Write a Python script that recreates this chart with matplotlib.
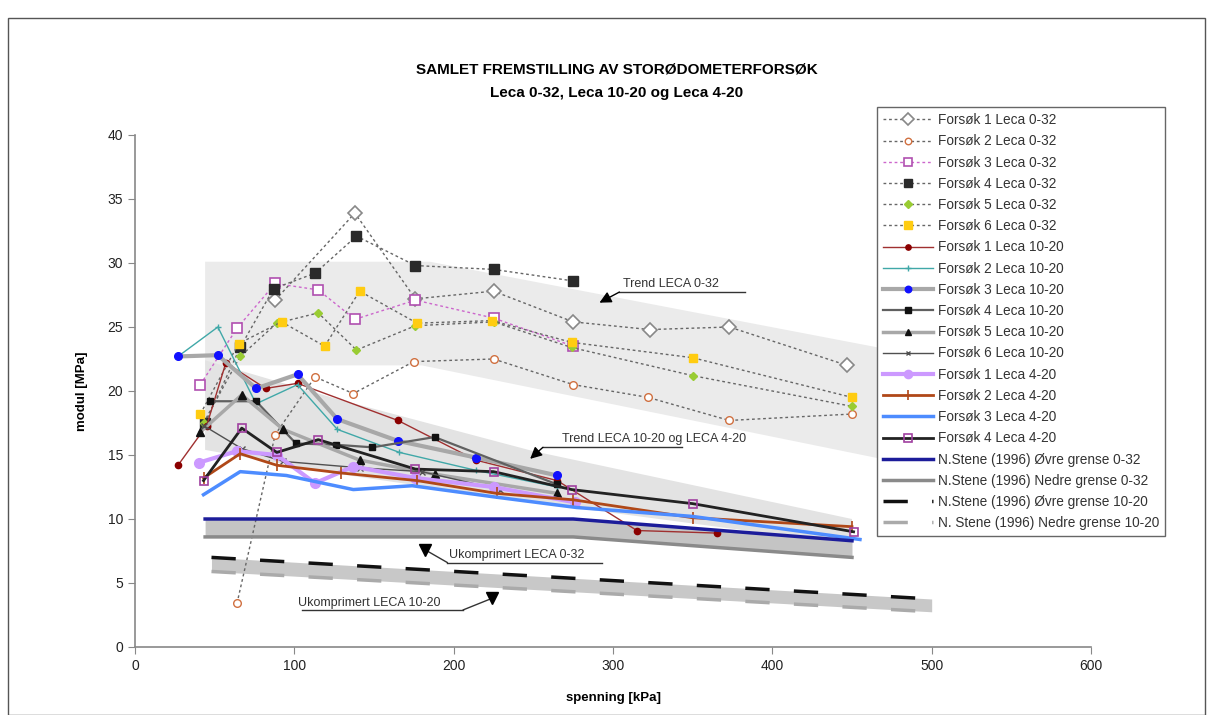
import matplotlib
matplotlib.use("Agg")
import matplotlib.pyplot as plt
from matplotlib.patches import Rectangle, Polygon

plt.rcParams['font.family'] = ['Liberation Sans', 'DejaVu Sans']

# ---------------- data ----------------
# Leca 0-32
x_f1_032 = [88, 138, 176, 225, 275, 323, 373, 447]
y_f1_032 = [27.1, 33.9, 27.2, 27.8, 25.4, 24.8, 25.0, 22.0]
x_f2_032 = [64, 88, 113, 137, 175, 225, 275, 322, 373, 450]
y_f2_032 = [3.4, 16.6, 21.1, 19.8, 22.3, 22.5, 20.5, 19.5, 17.7, 18.2]
x_f3_032 = [41, 64, 88, 115, 138, 176, 225, 275]
y_f3_032 = [20.5, 24.9, 28.4, 27.9, 25.6, 27.1, 25.7, 23.5]
x_f4_032 = [44, 66, 87, 113, 139, 176, 225, 275]
y_f4_032 = [17.5, 23.4, 28.0, 29.2, 32.1, 29.8, 29.5, 28.6]
x_f5_032 = [43, 66, 89, 115, 139, 176, 225, 274, 350, 450]
y_f5_032 = [17.5, 22.7, 25.3, 26.1, 23.2, 25.1, 25.4, 23.4, 21.2, 18.8]
x_f6_032 = [41, 65, 92, 119, 141, 177, 224, 274, 350, 450]
y_f6_032 = [18.2, 23.7, 25.4, 23.5, 27.8, 25.3, 25.5, 23.8, 22.6, 19.5]
# Leca 10-20
x_f1_1020 = [27, 45, 57, 82, 102, 165, 214, 265, 315, 365]
y_f1_1020 = [14.2, 17.3, 22.2, 20.2, 20.6, 17.7, 14.6, 13.0, 9.1, 8.9]
x_f2_1020 = [27, 52, 76, 102, 127, 166, 214, 265]
y_f2_1020 = [22.7, 25.0, 19.0, 20.5, 17.0, 15.2, 13.8, 12.5]
x_f3_1020 = [27, 52, 76, 102, 127, 165, 214, 265]
y_f3_1020 = [22.7, 22.8, 20.2, 21.3, 17.8, 16.1, 14.8, 13.4]
x_f4_1020 = [47, 76, 101, 126, 149, 188, 265]
y_f4_1020 = [19.2, 19.2, 15.9, 15.8, 15.6, 16.4, 12.7]
x_f5_1020 = [41, 67, 93, 141, 188, 265]
y_f5_1020 = [16.8, 19.7, 17.0, 14.6, 13.5, 12.0]
x_f6_1020 = [43, 67, 93, 141, 180, 229]
y_f6_1020 = [17.3, 15.5, 14.5, 14.0, 13.7, 12.3]
# Leca 4-20
x_f1_420 = [40, 64, 89, 113, 137, 176, 225, 276]
y_f1_420 = [14.4, 15.3, 15.0, 12.8, 14.1, 13.2, 12.5, 11.3]
x_f2_420 = [43, 66, 89, 129, 177, 227, 275, 350, 450]
y_f2_420 = [13.2, 15.1, 14.2, 13.6, 13.0, 12.0, 11.5, 10.1, 9.4]
x_f3_420 = [43, 66, 95, 137, 174, 227, 277, 350, 455]
y_f3_420 = [11.9, 13.7, 13.4, 12.3, 12.6, 11.7, 10.9, 10.2, 8.4]
x_f4_420 = [43, 67, 89, 115, 176, 225, 274, 350, 451]
y_f4_420 = [13.0, 17.1, 15.2, 16.2, 13.9, 13.7, 12.3, 11.2, 9.0]
# N. Stene (1996)
x_stene_032 = [44, 275, 450]
y_ovre_032 = [10.0, 10.0, 8.3]
y_nedre_032 = [8.6, 8.6, 7.0]
x_stene_1020 = [48, 500]
y_ovre_1020 = [7.0, 3.75]
y_nedre_1020 = [5.9, 2.75]
# trend bands
band032_x = [44, 185, 500]
band032_hi = [30.1, 30.1, 22.6]
band032_lo_x = [44, 180, 500]
band032_lo = [22.0, 22.0, 13.9]
band1020_x = [44, 129, 250, 450]
band1020_hi = [22.4, 19.3, 15.3, 10.0]
band1020_lo = [15.4, 13.5, 11.3, 8.0]

# ---------------- figure ----------------
fig = plt.figure(figsize=(12.15, 7.15), dpi=100)
fig.patches.append(Rectangle((8/1215, 0), (1205-8)/1215, 1-18/715, transform=fig.transFigure,
                             fill=False, edgecolor='#555555', linewidth=1.0))
ax = fig.add_axes([135/1215, 1-647/715, (1091-135)/1215, (647-135)/715])

poly032 = list(zip(band032_x, band032_hi)) + list(zip(band032_lo_x[::-1], band032_lo[::-1]))
ax.add_patch(Polygon(poly032, closed=True, facecolor='#ebebeb', edgecolor='none', zorder=0))
poly1020 = list(zip(band1020_x, band1020_hi)) + list(zip(band1020_x[::-1], band1020_lo[::-1]))
ax.add_patch(Polygon(poly1020, closed=True, facecolor='#e3e3e3', edgecolor='none', zorder=0))
ax.fill_between(x_stene_032, y_nedre_032, y_ovre_032, color='#c4c4c4', lw=0, zorder=0.5)
ax.fill_between(x_stene_1020, y_nedre_1020, y_ovre_1020, color='#c8c8c8', lw=0, zorder=0.5)

dot = (0, (2, 2))
gl = '#666666'
L = []
L.append(ax.plot(x_f1_032, y_f1_032, ls=dot, color=gl, lw=1, marker='D', ms=7, mfc='white', mec='#888888', mew=1.2, label='Forsøk 1 Leca 0-32')[0])
L.append(ax.plot(x_f2_032, y_f2_032, ls=dot, color=gl, lw=1, marker='o', ms=5.5, mfc='white', mec='#d07040', mew=1.0, label='Forsøk 2 Leca 0-32')[0])
L.append(ax.plot(x_f3_032, y_f3_032, ls=dot, color='#cc66cc', lw=1, marker='s', ms=6.5, mfc='white', mec='#b050b0', mew=1.2, label='Forsøk 3 Leca 0-32')[0])
L.append(ax.plot(x_f4_032, y_f4_032, ls=dot, color=gl, lw=1, marker='s', ms=7, mfc='#2a2a2a', mec='#2a2a2a', label='Forsøk 4 Leca 0-32')[0])
L.append(ax.plot(x_f5_032, y_f5_032, ls=dot, color=gl, lw=1, marker='D', ms=4.5, mfc='#99cc33', mec='#99cc33', label='Forsøk 5 Leca 0-32')[0])
L.append(ax.plot(x_f6_032, y_f6_032, ls=dot, color=gl, lw=1, marker='s', ms=6, mfc='#ffcc11', mec='#ffcc11', label='Forsøk 6 Leca 0-32')[0])

L.append(ax.plot(x_f1_1020, y_f1_1020, color='#a03030', lw=1, marker='o', ms=4.5, mfc='#8b0000', mec='#8b0000', label='Forsøk 1 Leca 10-20')[0])
L.append(ax.plot(x_f2_1020, y_f2_1020, color='#40a8a8', lw=1, marker='+', ms=5, mec='#40a8a8', label='Forsøk 2 Leca 10-20')[0])
L.append(ax.plot(x_f3_1020, y_f3_1020, color='#a8a8a8', lw=3, marker='o', ms=5.5, mfc='#1010ff', mec='#1010ff', label='Forsøk 3 Leca 10-20')[0])
L.append(ax.plot(x_f4_1020, y_f4_1020, color='#606060', lw=1.6, marker='s', ms=4.5, mfc='#111111', mec='#111111', label='Forsøk 4 Leca 10-20')[0])
L.append(ax.plot(x_f5_1020, y_f5_1020, color='#a8a8a8', lw=2.5, marker='^', ms=5.5, mfc='#111111', mec='#111111', label='Forsøk 5 Leca 10-20')[0])
L.append(ax.plot(x_f6_1020, y_f6_1020, color='#505050', lw=1, marker='x', ms=4, mec='#505050', label='Forsøk 6 Leca 10-20')[0])

L.append(ax.plot(x_f1_420, y_f1_420, color='#cc99ff', lw=3, marker='o', ms=7, mfc='#cc99ff', mec='#cc99ff', label='Forsøk 1 Leca 4-20')[0])
L.append(ax.plot(x_f2_420, y_f2_420, color='#b04818', lw=2, marker='|', ms=8, mec='#b04818', mew=1.2, label='Forsøk 2 Leca 4-20')[0])
L.append(ax.plot(x_f3_420, y_f3_420, color='#4d8cff', lw=2.5, label='Forsøk 3 Leca 4-20')[0])
L.append(ax.plot(x_f4_420, y_f4_420, color='#222222', lw=2, marker='s', ms=6, mfc='none', mec='#a040a0', mew=1.2, label='Forsøk 4 Leca 4-20')[0])

L.append(ax.plot(x_stene_032, y_ovre_032, color='#1c1c9a', lw=2.5, label='N.Stene (1996) Øvre grense 0-32')[0])
L.append(ax.plot(x_stene_032, y_nedre_032, color='#8a8a8a', lw=2.5, label='N.Stene (1996) Nedre grense 0-32')[0])
L.append(ax.plot(x_stene_1020, y_ovre_1020, color='#111111', lw=2.5, ls=(0, (7, 7)), label='N.Stene (1996) Øvre grense 10-20')[0])
L.append(ax.plot(x_stene_1020, y_nedre_1020, color='#aaaaaa', lw=2.5, ls=(0, (7, 7)), label='N. Stene (1996) Nedre grense 10-20')[0])

ax.set_xlim(0, 600)
ax.set_ylim(0, 40)
ax.set_xticks(range(0, 601, 100))
ax.set_yticks(range(0, 41, 5))
for s in ['top', 'right']:
    ax.spines[s].set_visible(False)
for s in ['left', 'bottom']:
    ax.spines[s].set_color('#888888')
    ax.spines[s].set_linewidth(1.2)
ax.tick_params(direction='out', length=5, color='#888888', labelsize=10, labelcolor='#222222')
ax.set_xlabel('spenning [kPa]', fontsize=9.5, fontweight='bold', labelpad=14)
ax.set_ylabel('modul [MPa]', fontsize=9.5, fontweight='bold', labelpad=14)

fig.text(617/1215, 1-70/715, 'SAMLET FREMSTILLING AV STORØDOMETERFORSØK', ha='center', va='center',
         fontsize=11, fontweight='bold')
fig.text(617/1215, 1-93/715, 'Leca 0-32, Leca 10-20 og Leca 4-20', ha='center', va='center',
         fontsize=11, fontweight='bold')

ann_c = '#333333'
def label_arrow(text, tx, ty, ux0, ux1, uy, hx, hy, fs=9):
    ax.text(tx, ty, text, fontsize=fs, color=ann_c, ha='left', va='bottom', zorder=5)
    ax.plot([ux0, ux1], [uy, uy], color=ann_c, lw=1, zorder=5)
    ax.annotate('', xy=(hx, hy), xytext=(ux0, uy),
                arrowprops=dict(arrowstyle='-|>,head_length=0.7,head_width=0.35', color='black', lw=1,
                                shrinkA=0, shrinkB=0), zorder=5)

def label_down(text, tx, ty, ux0, ux1, uy, dx, dy, hx, hy, fs=9):
    ax.text(tx, ty, text, fontsize=fs, color=ann_c, ha='left', va='bottom', zorder=5)
    ax.plot([ux0, ux1], [uy, uy], color=ann_c, lw=1, zorder=5)
    ax.plot([dx, hx], [dy, hy], color=ann_c, lw=1, zorder=5)
    ax.plot([hx], [hy], marker='v', ms=8, color='black', zorder=6)

label_arrow('Trend LECA 0-32', 306, 27.9, 304, 383, 27.73, 291.5, 26.9)
label_arrow('Trend LECA 10-20 og LECA 4-20', 268, 15.8, 256, 343, 15.6, 248, 14.7)
label_down('Ukomprimert LECA 0-32', 197, 6.75, 196, 293, 6.6, 196, 6.6, 182, 7.6)
label_down('Ukomprimert LECA 10-20', 102, 3.0, 105, 206, 2.9, 206, 2.9, 224, 3.8)

leg = fig.legend(handles=L, loc='upper left', bbox_to_anchor=(877/1215, 1-107/715), borderaxespad=0,
                 fontsize=9.8, frameon=True, fancybox=False, edgecolor='#666666', framealpha=1,
                 handlelength=3.7, labelspacing=0.53, handletextpad=0.3, borderpad=0.45,
                 labelcolor='#333333', markerscale=0.85)
leg.get_frame().set_linewidth(1.0)

fig.savefig('out.png', dpi=100)
